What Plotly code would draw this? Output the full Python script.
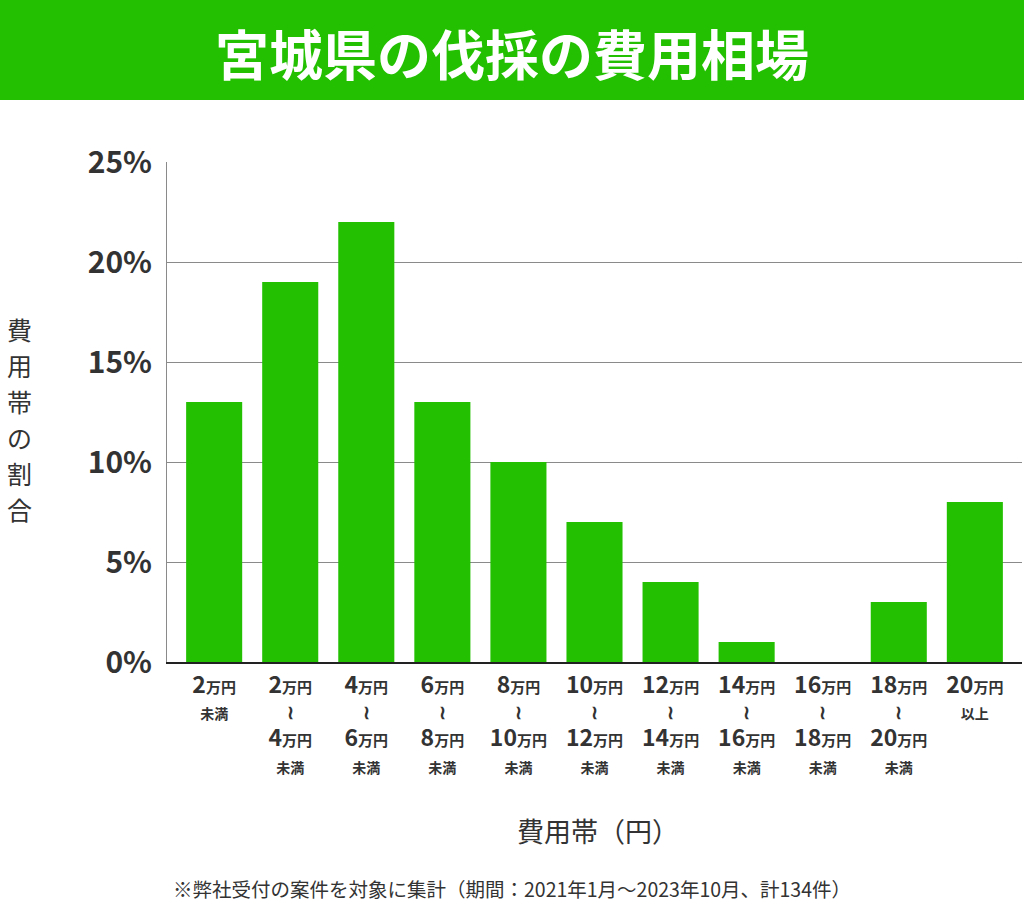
import plotly.graph_objects as go

# ---- data ----
range_low = [None, 2, 4, 6, 8, 10, 12, 14, 16, 18, 20]
range_high = [2, 4, 6, 8, 10, 12, 14, 16, 18, 20, None]
shares = [13, 19, 22, 13, 10, 7, 4, 1, 0, 3, 8]
y_ticks = [0, 5, 10, 15, 20, 25]
y_tick_labels = ["0%", "5%", "10%", "15%", "20%", "25%"]

title_text = "宮城県の伐採の費用相場"
y_title_chars = list("費用帯の割合")
x_title = "費用帯（円）"
footnote = "※弊社受付の案件を対象に集計（期間：2021年1月～2023年10月、計134件）"

GREEN = "#22c000"
DARK = "#333333"
FONT = "Noto Sans CJK JP"

W, H = 1024, 907
L, R, T, B = 167, 2, 162, 245
PW, PH = W - L - R, H - T - B


def num(n):
    return (f"<span style='font-size:23px'><b>{n}</b></span>"
            f"<span style='font-size:15px'><b>万円</b></span>")


def small(s):
    return f"<span style='font-size:14px'><b>{s}</b></span>"


tick_text = []
for lo, hi in zip(range_low, range_high):
    if lo is None:
        tick_text.append(num(hi) + "<br>" + small("未満"))
    elif hi is None:
        tick_text.append(num(lo) + "<br>" + small("以上"))
    else:
        tick_text.append(num(lo) + "<br><span style='font-size:19px'><b>≀</b></span><br>"
                         + num(hi) + "<br>" + small("未満"))

xs = list(range(len(shares)))

fig = go.Figure()
fig.add_trace(go.Bar(
    x=xs, y=shares, marker=dict(color=GREEN, line=dict(width=0)),
    width=0.737, hoverinfo="skip",
))

fig.update_layout(
    width=W, height=H,
    margin=dict(l=L, r=R, t=T, b=B),
    paper_bgcolor="white", plot_bgcolor="white",
    showlegend=False,
    font=dict(family=FONT, color=DARK),
    xaxis=dict(
        range=[-0.62, len(shares) - 1 + 0.62],
        tickmode="array", tickvals=xs, ticktext=tick_text,
        tickfont=dict(size=20.5, color=DARK, family=FONT),
        ticklabelstandoff=4,
        showgrid=False, zeroline=False, showline=True,
        linecolor="#222222", linewidth=2, ticks="",
        fixedrange=True,
    ),
    yaxis=dict(
        range=[0, 25],
        tickmode="array", tickvals=y_ticks,
        ticktext=[f"<b>{t}</b>" for t in y_tick_labels],
        tickfont=dict(size=30, color=DARK, family=FONT),
        showgrid=True, gridcolor="#8a8a8a", gridwidth=1,
        zeroline=False, showline=True, linecolor="#8a8a8a", linewidth=1,
        ticks="outside", ticklen=8, tickcolor="rgba(0,0,0,0)",
        fixedrange=True,
    ),
)

# title band
fig.add_shape(type="rect", xref="paper", yref="paper",
              x0=-L / PW, x1=1 + R / PW,
              y0=1 + (T - 100) / PH, y1=1 + T / PH,
              fillcolor=GREEN, line=dict(width=0), layer="above")
fig.add_annotation(xref="paper", yref="paper",
                   x=(512 - L) / PW, y=1 + (T - 52) / PH,
                   text=f"<b>{title_text}</b>", showarrow=False,
                   font=dict(size=54, color="white", family=FONT),
                   xanchor="center", yanchor="middle")

# vertical y title
for i, ch in enumerate(y_title_chars):
    fig.add_annotation(xref="paper", yref="paper",
                       x=(19 - L) / PW, y=1 - (329 + 36 * i - T) / PH,
                       text=ch, showarrow=False,
                       font=dict(size=25, color=DARK, family=FONT),
                       xanchor="center", yanchor="middle")

# x title
fig.add_annotation(xref="paper", yref="paper",
                   x=(598 - L) / PW, y=1 - (830 - T) / PH,
                   text=x_title, showarrow=False,
                   font=dict(size=27, color=DARK, family=FONT),
                   xanchor="center", yanchor="middle")

# footnote
fig.add_annotation(xref="paper", yref="paper",
                   x=(512 - L) / PW, y=1 - (888 - T) / PH,
                   text=footnote, showarrow=False,
                   font=dict(size=19.5, color=DARK, family=FONT),
                   xanchor="center", yanchor="middle")

fig.write_html("out.html", config={"displayModeBar": False})
